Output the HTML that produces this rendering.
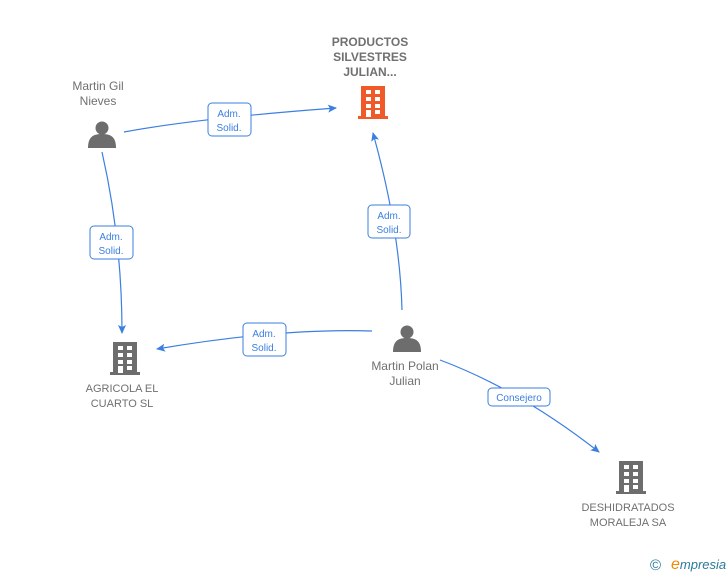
<!DOCTYPE html>
<html><head><meta charset="utf-8"><style>
body{margin:0;background:#fff;width:728px;height:575px;overflow:hidden}
text{font-family:"Liberation Sans",sans-serif}
</style></head><body>
<svg width="728" height="575" viewBox="0 0 728 575">
<defs>
<marker id="a" markerWidth="10" markerHeight="10" refX="8" refY="5" orient="auto" markerUnits="userSpaceOnUse"><path d="M0,1 L9,5 L0,9 L2,5z" fill="#3b7fe0"/></marker>
<g id="p"><circle cx="14" cy="8" r="6.5" fill="#6d6d6d"/><path d="M0,28 C0,17 5,14 14,14 C23,14 28,17 28,28z" fill="#6d6d6d"/></g>
<g id="b"><rect x="3" y="0" width="24" height="31" fill="currentColor"/><rect x="0" y="30" width="30" height="3" fill="currentColor"/>
<g fill="#fff"><rect x="8" y="4" width="5" height="4"/><rect x="17" y="4" width="5" height="4"/><rect x="8" y="11" width="5" height="4"/><rect x="17" y="11" width="5" height="4"/><rect x="8" y="18" width="5" height="4"/><rect x="17" y="18" width="5" height="4"/><rect x="8" y="24" width="5" height="7"/><rect x="17" y="24" width="5" height="4"/></g></g>
</defs>
<g fill="none" stroke="#3b7fe0" stroke-width="1.2">
<path d="M124,132 Q200,118 336,108" marker-end="url(#a)"/>
<path d="M102,152 Q122,240 122,333" marker-end="url(#a)"/>
<path d="M402,310 Q400,230 373,133" marker-end="url(#a)"/>
<path d="M372,331 Q280,328 157,349" marker-end="url(#a)"/>
<path d="M440,360 Q520,390 599,452" marker-end="url(#a)"/>
</g>
<g font-size="10" fill="#3b7fe0" text-anchor="middle">
<rect x="208" y="103" width="43" height="33" rx="4" fill="#fff" stroke="#3b7fe0"/><text x="229" y="117">Adm.</text><text x="229" y="131">Solid.</text>
<rect x="90" y="226" width="43" height="33" rx="4" fill="#fff" stroke="#3b7fe0"/><text x="111" y="240">Adm.</text><text x="111" y="254">Solid.</text>
<rect x="368" y="205" width="42" height="33" rx="4" fill="#fff" stroke="#3b7fe0"/><text x="389" y="219">Adm.</text><text x="389" y="233">Solid.</text>
<rect x="243" y="323" width="43" height="33" rx="4" fill="#fff" stroke="#3b7fe0"/><text x="264" y="337">Adm.</text><text x="264" y="351">Solid.</text>
<rect x="488" y="388" width="62" height="18" rx="4" fill="#fff" stroke="#3b7fe0"/><text x="519" y="401">Consejero</text>
</g>
<use href="#p" x="88" y="120"/>
<use href="#p" x="393" y="324"/>
<use href="#b" x="358" y="86" color="#f05a28"/>
<use href="#b" x="110" y="342" color="#6d6d6d"/>
<use href="#b" x="616" y="461" color="#6d6d6d"/>
<g font-size="12" fill="#707070" text-anchor="middle">
<text x="98" y="90">Martin Gil</text><text x="98" y="105">Nieves</text>
<text x="370" y="46" font-weight="bold">PRODUCTOS</text><text x="370" y="61" font-weight="bold">SILVESTRES</text><text x="370" y="76" font-weight="bold">JULIAN...</text>
<text x="405" y="370">Martin Polan</text><text x="405" y="385">Julian</text>
</g>
<g font-size="11" fill="#707070" text-anchor="middle">
<text x="122" y="392">AGRICOLA EL</text><text x="122" y="407">CUARTO SL</text>
<text x="628" y="511">DESHIDRATADOS</text><text x="628" y="526">MORALEJA SA</text>
</g>
<text x="650" y="570" font-size="15" fill="#2a7a9a">©</text>
<text x="671" y="569" font-size="13" font-style="italic" fill="#2a7a9a"><tspan fill="#f08a00" font-size="16">e</tspan>mpresia</text>
</svg>
</body></html>
